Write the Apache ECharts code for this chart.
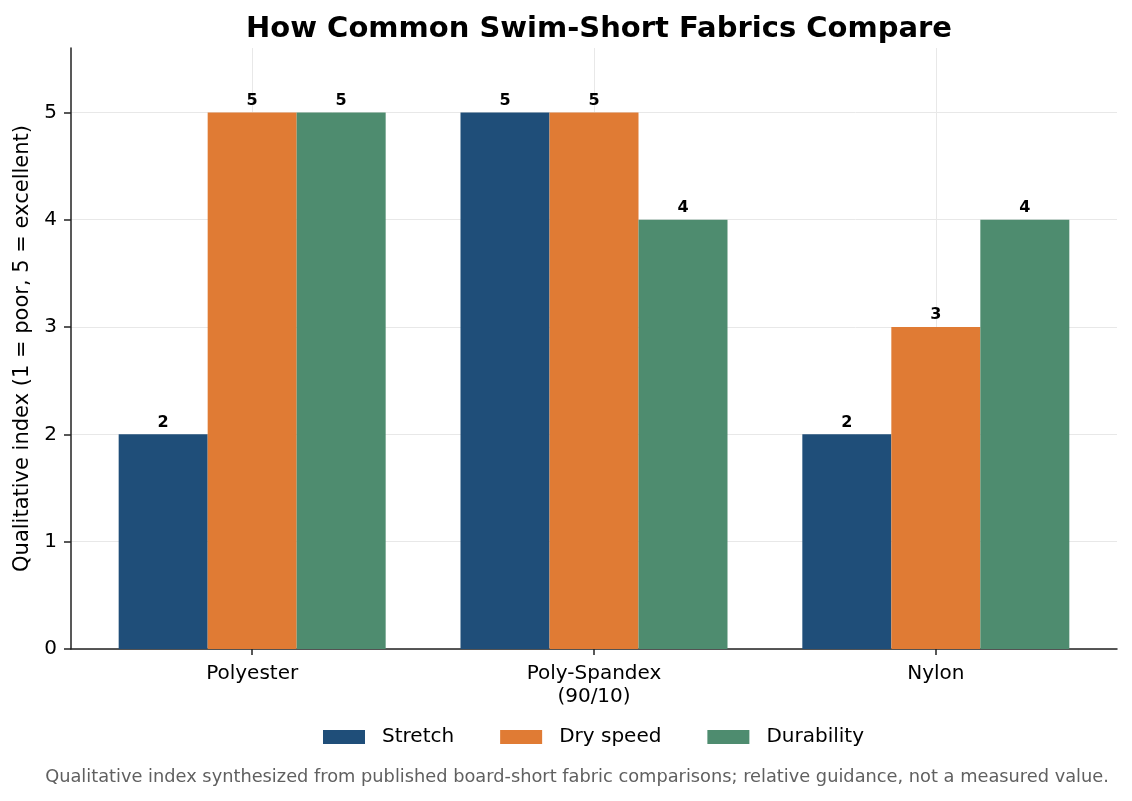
<!DOCTYPE html>
<html>
<head>
<meta charset="utf-8">
<script src="https://cdn.jsdelivr.net/npm/echarts@6/dist/echarts.min.js"></script>
<style>html,body{margin:0;padding:0;background:#fff}#c{width:1132px;height:801px}</style>
</head>
<body>
<div id="c"></div>
<script>
const categories = ['Polyester', 'Poly-Spandex\n(90/10)', 'Nylon'];
const seriesNames = ['Stretch', 'Dry speed', 'Durability'];
const stretch = [2, 5, 2];
const drySpeed = [5, 5, 3];
const durability = [5, 4, 4];
const yTicks = [0, 1, 2, 3, 4, 5];
const colors = ['#1f4e79', '#e07b34', '#4e8c6f'];
const FONT = 'DejaVu Sans';

const values = [stretch, drySpeed, durability];
const catIdx = categories.map((_, i) => i);

const chart = echarts.init(document.getElementById('c'), null, {renderer: 'canvas'});
chart.setOption({
  backgroundColor: '#fff',
  animation: false,
  textStyle: {fontFamily: FONT},
  title: {
    text: 'How Common Swim-Short Fabrics Compare',
    left: 594, textAlign: 'center', top: 10,
    textStyle: {fontFamily: FONT, fontSize: 29, fontWeight: 'bold', color: '#000'}
  },
  graphic: [{
    type: 'text', x: 577, y: 777,
    style: {
      text: 'Qualitative index synthesized from published board-short fabric comparisons; relative guidance, not a measured value.',
      font: '17.8px "DejaVu Sans"', fill: '#606060', align: 'center', verticalAlign: 'middle'
    }
  }],
  legend: {
    data: seriesNames,
    left: 323, top: 727, padding: 0,
    itemWidth: 42, itemHeight: 14, itemGap: 46,
    icon: 'rect',
    textStyle: {fontFamily: FONT, fontSize: 20, color: '#000', padding: [0, 0, 0, 12]}
  },
  grid: {left: 71, right: 15, top: 48, bottom: 152, containLabel: false},
  xAxis: {
    type: 'value', min: -0.53, max: 2.53,
    axisLine: {show: true, onZero: false, lineStyle: {color: '#222', width: 1.5}},
    axisTick: {show: true, customValues: catIdx, length: 6, lineStyle: {color: '#222', width: 1.5}},
    axisLabel: {
      customValues: catIdx, margin: 13,
      formatter: v => categories[Math.round(v)],
      fontFamily: FONT, fontSize: 20, color: '#000', lineHeight: 23
    },
    splitLine: {show: true, lineStyle: {color: '#e8e8e8', width: 1}}
  },
  yAxis: {
    type: 'value', min: 0, max: 5.6,
    name: 'Qualitative index (1 = poor, 5 = excellent)',
    nameLocation: 'middle', nameGap: 37, nameRotate: 90,
    nameTextStyle: {fontFamily: FONT, fontSize: 21, color: '#000'},
    axisLine: {show: true, onZero: false, lineStyle: {color: '#222', width: 1.5}},
    axisTick: {show: true, customValues: yTicks, length: 7, lineStyle: {color: '#222', width: 1.5}},
    axisLabel: {customValues: yTicks, margin: 14, fontFamily: FONT, fontSize: 20, color: '#000'},
    splitLine: {show: true, lineStyle: {color: '#e8e8e8', width: 1}}
  },
  series: seriesNames.map((name, s) => ({
    name, type: 'bar',
    barWidth: 89, barGap: '0%',
    itemStyle: {color: colors[s]},
    label: {
      show: true, position: 'top', distance: 4,
      fontFamily: FONT, fontSize: 16, fontWeight: 'bold', color: '#000'
    },
    data: catIdx.map(i => [i, values[s][i]])
  }))
});
</script>
</body>
</html>
